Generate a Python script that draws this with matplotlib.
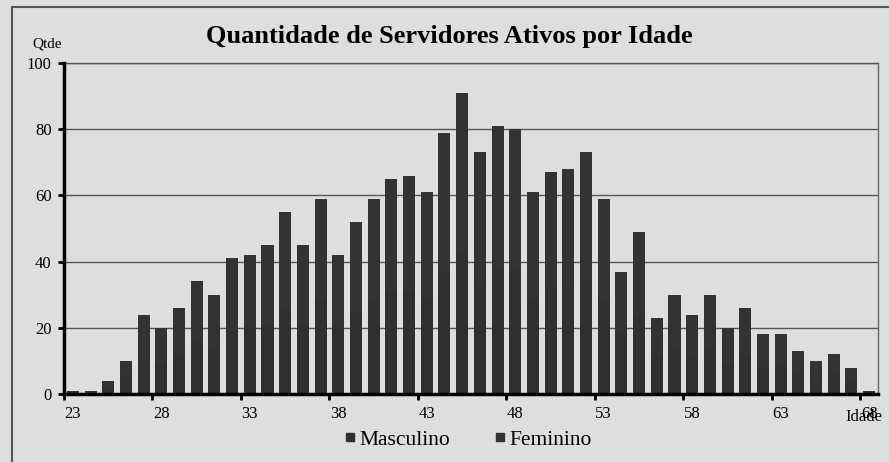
import numpy as np
import matplotlib
matplotlib.use('Agg')
import matplotlib.pyplot as plt
from matplotlib.lines import Line2D

# ages 23..68
idades = list(range(23, 69))
masculino = [1, 0, 2, 5, 11, 9, 12, 16, 14, 19, 20, 21, 26, 21, 28, 20, 25, 28, 31, 31,
             29, 37, 43, 34, 38, 38, 29, 32, 32, 34, 28, 18, 23, 11, 14, 11, 14, 9, 12, 8,
             9, 6, 5, 6, 4, 1]
feminino = [0, 1, 2, 5, 13, 11, 14, 18, 16, 22, 22, 24, 29, 24, 31, 22, 27, 31, 34, 35,
            32, 42, 48, 39, 43, 42, 32, 35, 36, 39, 31, 19, 26, 12, 16, 13, 16, 11, 14, 10,
            9, 7, 5, 6, 4, 0]
yticks = [0, 20, 40, 60, 80, 100]
xlabels = [23, 28, 33, 38, 43, 48, 53, 58, 63, 68]

font = 'Liberation Serif'
bg = '#dedede'
barcol_m = '#303030'
barcol_f = '#333333'

fig = plt.figure(figsize=(8.89, 4.62), dpi=100)
fig.patch.set_facecolor(bg)
ax = fig.add_axes([64/889, 1-394/462, (878-64)/889, (394-63)/462])
ax.set_facecolor(bg)

ax.bar(idades, masculino, width=0.68, color=barcol_m, zorder=3)
ax.bar(idades, feminino, width=0.68, bottom=masculino, color=barcol_f, zorder=3)

ax.set_xlim(22.5, 68.5)
ax.set_ylim(0, 100)
ax.set_yticks(yticks)
ax.set_yticklabels([str(v) for v in yticks], fontfamily=font, fontsize=12)
ax.set_xticks(xlabels)
ax.set_xticklabels([str(v) for v in xlabels], fontfamily=font, fontsize=12)
ax.tick_params(axis='x', length=0, pad=9)
ax.set_xticks(np.arange(22.5, 68, 5), minor=True)
ax.tick_params(axis='x', which='minor', length=4, width=2, direction='out')
ax.tick_params(axis='y', length=4, width=2, direction='out', pad=5)

ax.grid(axis='y', color='#555555', linewidth=1.0, zorder=1)
ax.spines['left'].set_linewidth(2.5)
ax.spines['bottom'].set_linewidth(2.5)
ax.spines['left'].set_zorder(4)
ax.spines['bottom'].set_zorder(4)
ax.spines['top'].set_color('#555555')
ax.spines['top'].set_linewidth(1.0)
ax.spines['right'].set_color('#666666')
ax.spines['right'].set_linewidth(1.0)

# outer chart border
fig.add_artist(Line2D([12/889, 12/889], [0, 1-7/462], color='#555555', linewidth=1.5))
fig.add_artist(Line2D([12/889, 1], [1-7/462, 1-7/462], color='#555555', linewidth=1.5))

fig.text(449/889, 1-36/462, 'Quantidade de Servidores Ativos por Idade',
         fontfamily=font, fontweight='bold', fontsize=19, ha='center', va='center')
fig.text(47/889, 1-44/462, 'Qtde', fontfamily=font, fontsize=11, ha='center', va='center')
fig.text(864/889, 1-417/462, 'Idade', fontfamily=font, fontsize=12, ha='center', va='center')

handles = [Line2D([], [], marker='s', linestyle='none', color=barcol_m, markersize=6),
           Line2D([], [], marker='s', linestyle='none', color=barcol_f, markersize=6)]
fig.legend(handles, ['Masculino', 'Feminino'], loc='center', bbox_to_anchor=(468/889, 1-440/462),
           ncol=2, frameon=False, handlelength=0.6, handletextpad=0.15, columnspacing=2.0,
           prop={'family': font, 'size': 15.5})

fig.savefig('out.png', dpi=100, facecolor=fig.get_facecolor())
